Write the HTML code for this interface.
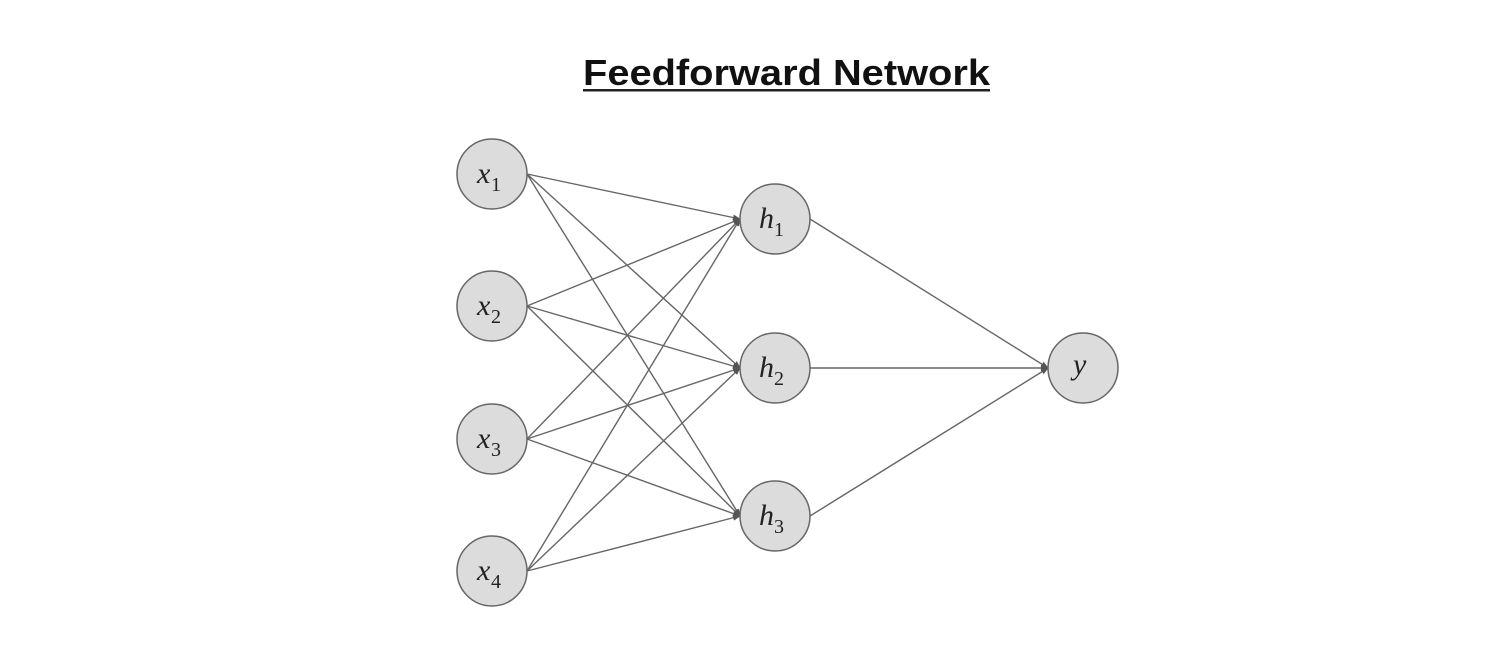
<!DOCTYPE html>
<html><head><meta charset="utf-8"><style>
html,body{margin:0;padding:0;background:#fff;}
svg{display:block;}
</style></head><body>
<svg width="1502" height="658" viewBox="0 0 1502 658" xmlns="http://www.w3.org/2000/svg">
<defs><marker id="a" markerWidth="8" markerHeight="8" refX="7" refY="4" orient="auto" markerUnits="userSpaceOnUse"><path d="M0,1 L8,4 L0,7 z" fill="#555"/></marker></defs>
<text x="583" y="85" font-family="Liberation Sans, sans-serif" font-weight="bold" font-size="36" textLength="407" lengthAdjust="spacingAndGlyphs" fill="#111">Feedforward Network</text>
<rect x="583" y="89" width="407" height="2.5" fill="#222"/>
<g stroke="#666" stroke-width="1.4" fill="none" marker-end="url(#a)">
<line x1="527" y1="174" x2="740" y2="219"/><line x1="527" y1="174" x2="740" y2="368"/><line x1="527" y1="174" x2="740" y2="516"/>
<line x1="527" y1="306" x2="740" y2="219"/><line x1="527" y1="306" x2="740" y2="368"/><line x1="527" y1="306" x2="740" y2="516"/>
<line x1="527" y1="439" x2="740" y2="219"/><line x1="527" y1="439" x2="740" y2="368"/><line x1="527" y1="439" x2="740" y2="516"/>
<line x1="527" y1="571" x2="740" y2="219"/><line x1="527" y1="571" x2="740" y2="368"/><line x1="527" y1="571" x2="740" y2="516"/>
<line x1="810" y1="219" x2="1048" y2="368"/><line x1="810" y1="368" x2="1048" y2="368"/><line x1="810" y1="516" x2="1048" y2="368"/>
</g>
<g fill="#dcdcdc" stroke="#666" stroke-width="1.5">
<circle cx="492" cy="174" r="35"/><circle cx="492" cy="306" r="35"/><circle cx="492" cy="439" r="35"/><circle cx="492" cy="571" r="35"/>
<circle cx="775" cy="219" r="35"/><circle cx="775" cy="368" r="35"/><circle cx="775" cy="516" r="35"/>
<circle cx="1083" cy="368" r="35"/>
</g>
<g font-family="Liberation Serif, serif" fill="#222">
<text x="477" y="183" font-size="30" font-style="italic">x</text><text x="491" y="191" font-size="20">1</text>
<text x="477" y="315" font-size="30" font-style="italic">x</text><text x="491" y="323" font-size="20">2</text>
<text x="477" y="448" font-size="30" font-style="italic">x</text><text x="491" y="456" font-size="20">3</text>
<text x="477" y="580" font-size="30" font-style="italic">x</text><text x="491" y="588" font-size="20">4</text>
<text x="759" y="228" font-size="30" font-style="italic">h</text><text x="774" y="236" font-size="20">1</text>
<text x="759" y="377" font-size="30" font-style="italic">h</text><text x="774" y="385" font-size="20">2</text>
<text x="759" y="525" font-size="30" font-style="italic">h</text><text x="774" y="533" font-size="20">3</text>
<text x="1073" y="374" font-size="30" font-style="italic">y</text>
</g>
</svg>
</body></html>
